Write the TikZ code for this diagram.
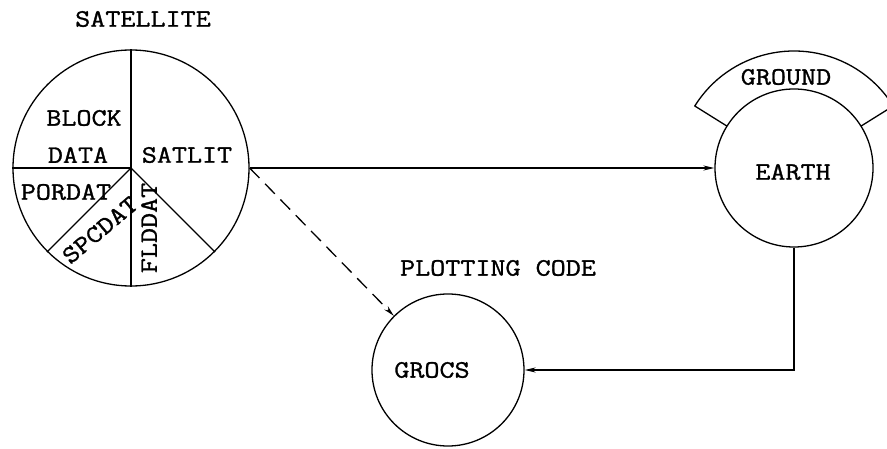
\documentclass[tikz,border=0pt]{standalone}
\usepackage{fontspec}
\setmonofont{Latin Modern Mono}[FakeStretch=1.17,FakeBold=1.2]
\usetikzlibrary{arrows.meta}
\begin{document}
\begin{tikzpicture}[x=1pt,y=1pt,
  every node/.style={inner sep=0pt},
  lbl/.style={font=\ttfamily\fontsize{25}{28}\selectfont},
  bub/.style={draw,circle,line width=1.3pt},
  ln/.style={line width=1.3pt},
  arr/.style={line width=1.3pt,-{Stealth[length=11pt,width=5pt]}}]
\useasboundingbox (0,0) rectangle (887,448);
% circles
\node[bub,minimum size=236pt] (sat) at (131,280) {};
\node[bub,minimum size=158pt] (earth) at (794,280) {};
\node[bub,minimum size=152pt] (grocs) at (448,78) {};
% pie spokes
\coordinate (sc) at (131,280);
\draw[ln] (sc) -- (sat.north);
\draw[ln] (sc) -- (sat.west);
\draw[ln] (sc) -- (sat.225);
\draw[ln] (sc) -- (sat.south);
\draw[ln] (sc) -- (sat.-45);
% ground band
\coordinate (ec) at (794,280);
\draw[ln,line join=round] ([shift={(148:79)}]ec) -- ([shift={(148:117)}]ec)
  arc[start angle=148,end angle=32,radius=117] -- ([shift={(32:79)}]ec);
% labels
\node[lbl] (tsat) at (143,429) {SATELLITE};
\node[lbl] (tblock) at (84,330) {BLOCK};
\node[lbl] (tdata) at (78,293) {DATA};
\node[lbl] (tsatlit) at (187,293) {SATLIT};
\node[lbl] (tpordat) at (66,256) {PORDAT};
\node[lbl,rotate=40] (tspcdat) at (100,218) {SPCDAT};
\node[lbl,rotate=90] (tflddat) at (149,220) {FLDDAT};
\node[lbl] (tearth) at (793,276) {EARTH};
\node[lbl] (tground) at (786,371) {GROUND};
\node[lbl] (tplot) at (498,180) {PLOTTING CODE};
\node[lbl] (tgrocs) at (432,78) {GROCS};
% connectors
\draw[arr] (sat.east) -- (earth.west);
\draw[arr,dash pattern=on 14pt off 8pt] (sat.east) -- (grocs.135);
\draw[arr] (earth.south) |- (grocs.east);
\end{tikzpicture}
\end{document}
